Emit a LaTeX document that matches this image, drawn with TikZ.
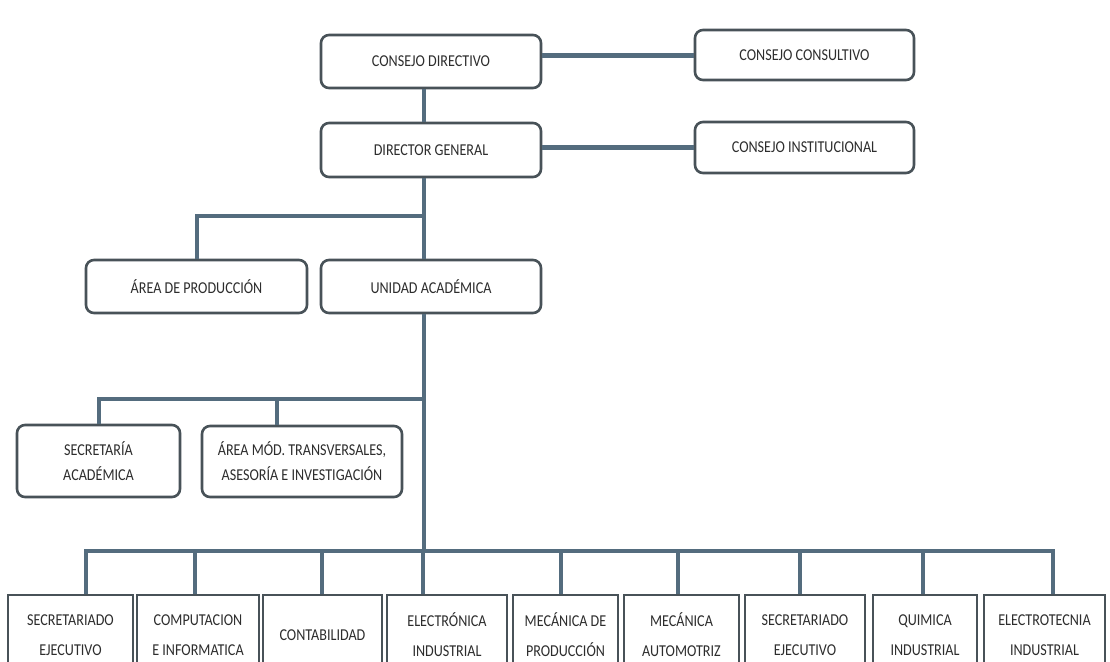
\documentclass[tikz,border=0pt]{standalone}
\usepackage{fontspec}
\newfontfamily\orgfont[FakeStretch=0.85]{Carlito}
\definecolor{conn}{RGB}{84,108,126}
\definecolor{bord}{RGB}{72,82,88}
\definecolor{txt}{RGB}{45,45,45}
\begin{document}
\begin{tikzpicture}[x=0.5pt,y=-0.5pt,
  conline/.style={draw=conn, line width=2pt},
  hconline/.style={draw=conn, line width=2.5pt},
  rbox/.style={draw=bord, line width=1.3pt, fill=white, rounded corners=4pt, align=center, inner sep=0pt, font=\orgfont\fontsize{8.3}{12.5}\selectfont, text=txt},
  sbox/.style={draw=bord, line width=1.3pt, fill=white, align=center, inner sep=0pt, font=\orgfont\fontsize{8.3}{15}\selectfont, text=txt, minimum height=40pt},
]
\useasboundingbox (0,0) rectangle (1110,661);
\clip (0,0) rectangle (1110,661);
\fill[white] (0,0) rectangle (1110,661);

% upper boxes
\node[rbox, minimum width=110pt, minimum height=26.5pt] (cd) at (431,61.5) {CONSEJO DIRECTIVO};
\node[rbox, minimum width=109.5pt, minimum height=25pt] (cc) at (804.5,55) {CONSEJO CONSULTIVO};
\node[rbox, minimum width=110pt, minimum height=27pt] (dg) at (431,150) {DIRECTOR GENERAL};
\node[rbox, minimum width=109.5pt, minimum height=25.5pt] (ci) at (804.5,147.5) {CONSEJO INSTITUCIONAL};
\node[rbox, minimum width=110.5pt, minimum height=26.5pt] (ap) at (196.5,286.5) {ÁREA DE PRODUCCIÓN};
\node[rbox, minimum width=110pt, minimum height=26.5pt] (ua) at (431,286.5) {UNIDAD ACADÉMICA};
\node[rbox, minimum width=81.5pt, minimum height=36pt] (sa) at (98.5,461) {SECRETARÍA\\ACADÉMICA};
\node[rbox, minimum width=100pt, minimum height=35.5pt] (amt) at (302,461.5) {ÁREA MÓD. TRANSVERSALES,\\ASESORÍA E INVESTIGACIÓN};

% bottom boxes
\node[sbox, minimum width=62.5pt] (b1) at (70.5,635) {SECRETARIADO\\EJECUTIVO};
\node[sbox, minimum width=61pt] (b2) at (198,635) {COMPUTACION\\E INFORMATICA};
\node[sbox, minimum width=59.5pt] (b3) at (322.5,635) {CONTABILIDAD};
\node[sbox, minimum width=60pt] (b4) at (447,635) {ELECTRÓNICA\\INDUSTRIAL};
\node[sbox, minimum width=52.5pt] (b5) at (565.5,635) {MECÁNICA DE\\PRODUCCIÓN};
\node[sbox, minimum width=57.5pt] (b6) at (681.5,635) {MECÁNICA\\AUTOMOTRIZ};
\node[sbox, minimum width=60pt] (b7) at (805,635) {SECRETARIADO\\EJECUTIVO};
\node[sbox, minimum width=52pt] (b8) at (925,635) {QUIMICA\\INDUSTRIAL};
\node[sbox, minimum width=60.5pt] (b9) at (1044.5,635) {ELECTROTECNIA\\INDUSTRIAL};

% connectors
\coordinate (sp) at (424,0);
\draw[hconline] (cd.east |- cc.west) -- (cc.west);
\draw[hconline] (dg.east |- ci.west) -- (ci.west);
\draw[conline] (sp |- cd.south) -- (sp |- dg.north);
\draw[conline] (sp |- dg.south) -- (sp |- ua.north);
\coordinate (j1) at (424,216);
\draw[conline] (j1) -| (ap.north);
\coordinate (bus) at (424,551);
\draw[conline] (sp |- ua.south) -- (bus);
\coordinate (j2) at (424,399);
\draw[conline] (j2) -| (sa.north);
\coordinate (j3) at (277,399);
\draw[conline] (j3) -- (j3 |- amt.north);

\coordinate (c1) at (86,551);
\coordinate (c9) at (1053,551);
\draw[conline] (c1 |- b1.north) -- (c1) -- (c9) -- (c9 |- b9.north);
\foreach \n/\x in {b2/195,b3/322,b4/423,b5/561,b6/678,b7/800,b8/923}{
  \coordinate (tt) at (\x,551);
  \draw[conline] (tt) -- (tt |- \n.north);
}
\end{tikzpicture}
\end{document}
